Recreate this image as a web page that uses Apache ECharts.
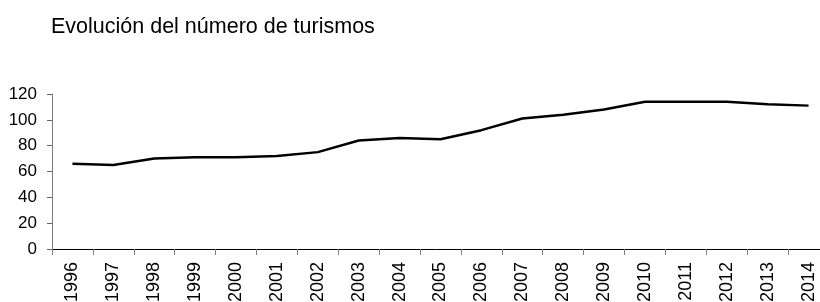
<!DOCTYPE html>
<html>
<head>
<meta charset="utf-8">
<script src="https://cdn.jsdelivr.net/npm/echarts@6/dist/echarts.min.js"></script>
<style>
html, body { margin: 0; padding: 0; background: #fff; }
#chart { width: 820px; height: 302px; }
</style>
</head>
<body>
<div id="chart"></div>
<script>
var years = ['1996','1997','1998','1999','2000','2001','2002','2003','2004','2005',
    '2006','2007','2008','2009','2010','2011','2012','2013','2014'];
var turismos = [66, 65, 70, 71, 71, 72, 75, 84, 86, 85, 92, 101, 104, 108, 114, 114, 114, 112, 111];
var yTicks = [0, 120, 20];  // min, max, interval

var chart = echarts.init(document.getElementById('chart'));
var font = 'Liberation Sans, Arial, sans-serif';
var option = {
    animation: false,
    title: {
        text: 'Evolución del número de turismos',
        left: 46,
        top: 11,
        textStyle: { fontFamily: font, fontSize: 21.5, fontWeight: 'normal', color: '#000' }
    },
    grid: { left: 52, right: -9, top: 94, bottom: 53, containLabel: false, outerBoundsMode: 'none' },
    xAxis: {
        type: 'category',
        data: years,
        boundaryGap: true,
        axisLine: { lineStyle: { color: '#000', width: 1 } },
        axisTick: { show: true, length: 6, lineStyle: { color: '#808080' } },
        axisLabel: { rotate: 90, margin: 13, fontFamily: font, fontSize: 18, color: '#000', interval: 0 },
        splitLine: { show: false }
    },
    yAxis: {
        type: 'value',
        min: yTicks[0],
        max: yTicks[1],
        interval: yTicks[2],
        axisLine: { show: true, lineStyle: { color: '#808080', width: 1 } },
        axisTick: { show: true, length: 5, lineStyle: { color: '#666' } },
        axisLabel: { margin: 15, fontFamily: font, fontSize: 17, color: '#000' },
        splitLine: { show: false }
    },
    series: [{
        name: 'Turismos',
        type: 'line',
        data: turismos,
        symbol: 'none',
        lineStyle: { color: '#000', width: 2.5 }
    }]
};
chart.setOption(option);
</script>
</body>
</html>
